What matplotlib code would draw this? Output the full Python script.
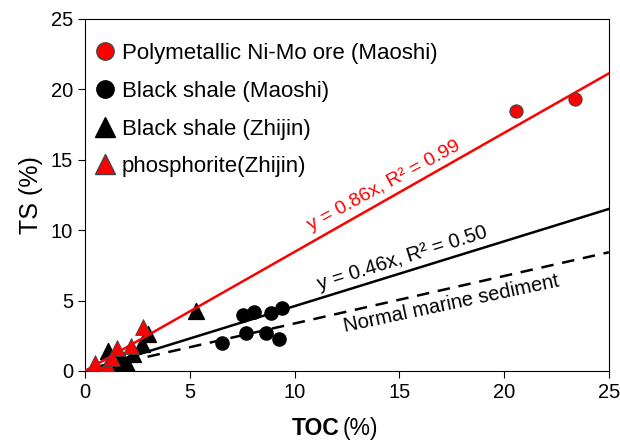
import numpy as np
import matplotlib
matplotlib.use("Agg")
import matplotlib.pyplot as plt
from matplotlib.lines import Line2D

plt.rcParams['font.family'] = ['Liberation Sans', 'DejaVu Sans']

# TOC (%), TS (%)
ore_toc = [20.56, 23.38]
ore_ts = [18.49, 19.3]
shale_m_toc = [7.54, 8.06, 8.87, 9.40, 7.68, 8.64, 9.26, 6.54]
shale_m_ts = [3.98, 4.19, 4.12, 4.47, 2.70, 2.70, 2.27, 1.99]
shale_z_toc = [5.3, 3.0, 2.7, 1.1, 1.5, 1.8, 2.0, 1.6, 2.3, 1.3]
shale_z_ts = [4.26, 2.6, 1.9, 1.45, 1.1, 0.8, 0.5, 0.4, 1.2, 0.6]
phos_toc = [2.77, 1.55, 0.5, 1.05, 1.3, 2.2]
phos_ts = [3.1, 1.65, 0.55, 0.4, 0.9, 1.8]

red_slope = 0.845
black_slope = 0.46
normal_slope = 0.337

fig = plt.figure(figsize=(6.2, 4.48), dpi=100)
ax = fig.add_axes([0.137, 0.172, 0.845, 0.786])

xx = np.array([0, 25])
ax.plot(xx, black_slope * xx, color='black', lw=1.8, zorder=2)
xd = np.array([2.0, 25])
ax.plot(xd, normal_slope * xd, color='black', lw=1.8, ls=(0, (5, 3.5)), zorder=2)

ax.scatter(shale_z_toc, shale_z_ts, marker='^', s=130, color='black', zorder=3)
ax.scatter(shale_m_toc, shale_m_ts, marker='o', s=90, color='black', zorder=3)
ax.plot(xx, red_slope * xx, color='red', lw=1.8, zorder=4)
ax.scatter(phos_toc, phos_ts, marker='^', s=130, color='red', edgecolor='#444444',
           linewidth=0.6, zorder=5)
ax.scatter(ore_toc, ore_ts, marker='o', s=90, color='red', edgecolor='#444444',
           linewidth=0.8, zorder=5)

ax.text(10.8, 9.95, 'y = 0.86x, R² = 0.99', color='red', fontsize=14,
        rotation=28.5, rotation_mode='anchor', ha='left', va='baseline')
ax.text(11.2, 5.7, 'y = 0.46x, R² = 0.50', color='black', fontsize=14.5,
        rotation=17.5, rotation_mode='anchor', ha='left', va='baseline')
ax.text(12.4, 2.75, 'Normal marine sediment', color='black', fontsize=14.5,
        rotation=12, rotation_mode='anchor', ha='left', va='baseline')

ax.set_xlim(0, 25)
ax.set_ylim(0, 25)
ax.set_xticks([0, 5, 10, 15, 20, 25])
ax.set_yticks([0, 5, 10, 15, 20, 25])
ax.tick_params(direction='out', length=5, labelsize=14.5, top=False, right=False)
ax.set_ylabel('TS (%)', fontsize=18, labelpad=6)

fig.text(0.548, 0.03, 'TOC', fontsize=16.5, fontweight='bold', ha='right', va='baseline')
fig.text(0.552, 0.03, '(%)', fontsize=16.5, ha='left', va='baseline')

handles = [
    Line2D([], [], marker='o', ls='', color='red', markeredgecolor='#444444', markersize=12.5),
    Line2D([], [], marker='o', ls='', color='black', markersize=12.5),
    Line2D([], [], marker='^', ls='', color='black', markersize=14),
    Line2D([], [], marker='^', ls='', color='red', markeredgecolor='#444444', markersize=14),
]
labels = ['Polymetallic Ni-Mo ore (Maoshi)', 'Black shale (Maoshi)',
          'Black shale (Zhijin)', 'phosphorite(Zhijin)']
ax.legend(handles, labels, loc='upper left', bbox_to_anchor=(-0.008, 0.975), frameon=False,
          fontsize=16, handlelength=0.8, handletextpad=0.35, labelspacing=0.75,
          borderaxespad=0.3)

fig.savefig('out.png', dpi=100)
